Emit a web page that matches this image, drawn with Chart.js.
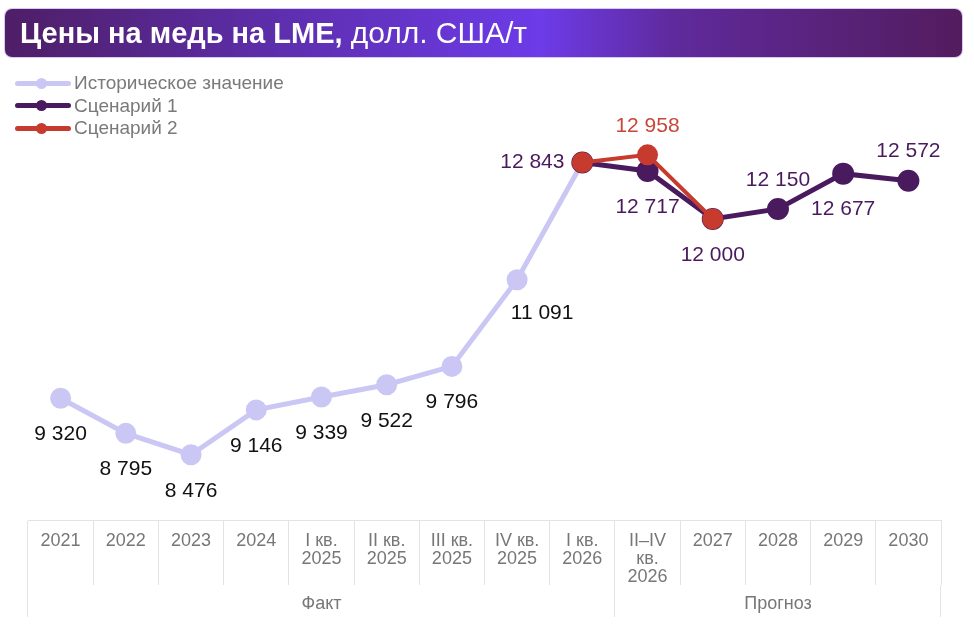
<!DOCTYPE html>
<html>
<head>
<meta charset="utf-8">
<script src="https://cdn.jsdelivr.net/npm/chart.js@4"></script>
<style>
  body { margin: 0; background: #fff; font-family: "Liberation Sans", Arial, sans-serif; }
  #wrap { position: relative; width: 974px; height: 629px; }
  #chart { position: absolute; left: 0; top: 0; }
  .banner {
    position: absolute; left: 5px; top: 9px; width: 957px; height: 48px;
    border-radius: 7px; box-shadow: 0 0 0 1px #d9c8f2;
    background: linear-gradient(90deg, #4e1e66 0%, #5e2fb0 30%, #6d3be8 56%, #5f2a9c 70%, #531c5e 100%);
    color: #fff; font-size: 29px; line-height: 48px; padding-left: 15px; box-sizing: border-box;
  }
  .banner b { font-weight: bold; }
  .banner span { font-size: 30px; }
  .legend { position: absolute; left: 15px; top: 72px; font-size: 19px; color: #7a7a7a; }
  .legend div { height: 22.5px; line-height: 22.5px; display: flex; align-items: center; }
  .legend i { position: relative; display: inline-block; width: 56px; height: 5px; border-radius: 3px; margin-right: 3px; }
  .legend i::after { content: ""; position: absolute; left: 21px; top: -3px; width: 11px; height: 11px; border-radius: 50%; background: inherit; }
</style>
</head>
<body>
<div id="wrap">
  <canvas id="chart" width="974" height="629"></canvas>
  <div class="banner"><b>Цены на медь на LME,</b> <span>долл. США/т</span></div>
  <div class="legend">
    <div><i style="background:#cbc7f4"></i>Историческое значение</div>
    <div><i style="background:#4a1a5e"></i>Сценарий 1</div>
    <div><i style="background:#c73a2e"></i>Сценарий 2</div>
  </div>
</div>
<script>
var categories = ['2021', '2022', '2023', '2024', ['I кв.', '2025'], ['II кв.', '2025'], ['III кв.', '2025'],
  ['IV кв.', '2025'], ['I кв.', '2026'], ['II–IV', 'кв.', '2026'], '2027', '2028', '2029', '2030'];
var historical = [9320, 8795, 8476, 9146, 9339, 9522, 9796, 11091, 12843, null, null, null, null, null];
var scenario1 = [null, null, null, null, null, null, null, null, 12843, 12717, 12000, 12150, 12677, 12572];
var scenario2 = [null, null, null, null, null, null, null, null, 12843, 12958, 12000, null, null, null];
var groups = [{ label: 'Факт', from: 0, to: 8 }, { label: 'Прогноз', from: 9, to: 13 }];

// where each value label sits relative to its point
var histLabelPos = ['below', 'below', 'below', 'below', 'below', 'below', 'below', 'belowRight', null];
var s1LabelPos = [null, null, null, null, null, null, null, null, 'left', 'below', 'below', 'above', 'below', 'above'];
var s2LabelPos = [null, null, null, null, null, null, null, null, null, 'above', null, null, null, null];

var offsets = {
  below: [0, 36], above: [0, -29], left: [-50, 0], belowRight: [25, 33]
};

function fmt(v) {
  return String(v).replace(/\B(?=(\d{3})+(?!\d))/g, ' ');
}

var valueLabels = {
  id: 'valueLabels',
  afterDatasetsDraw: function(chart) {
    var ctx = chart.ctx;
    ctx.save();
    ctx.font = '21px "Liberation Sans", Arial, sans-serif';
    ctx.textAlign = 'center';
    ctx.textBaseline = 'middle';
    chart.data.datasets.forEach(function(ds, di) {
      var meta = chart.getDatasetMeta(di);
      meta.data.forEach(function(pt, i) {
        var pos = ds.labelPos[i];
        if (!pos || ds.data[i] == null) return;
        var o = offsets[pos];
        ctx.fillStyle = ds.labelColor;
        ctx.fillText(fmt(ds.data[i]), pt.x + o[0], pt.y + o[1]);
      });
    });
    ctx.restore();
  }
};

var groupRow = {
  id: 'groupRow',
  afterDraw: function(chart) {
    var ctx = chart.ctx, x = chart.scales.x;
    var half = (x.getPixelForValue(1) - x.getPixelForValue(0)) / 2;
    var y0 = x.top + 65, y1 = x.bottom + 1;
    ctx.save();
    ctx.strokeStyle = '#e3e3e3';
    ctx.lineWidth = 1;
    ctx.fillStyle = '#777';
    ctx.font = '18px "Liberation Sans", Arial, sans-serif';
    ctx.textAlign = 'center';
    ctx.textBaseline = 'middle';
    groups.forEach(function(g) {
      var l = x.getPixelForValue(g.from) - half;
      var r = x.getPixelForValue(g.to) + half;
      ctx.beginPath();
      ctx.moveTo(Math.round(l) - 0.5, y0); ctx.lineTo(Math.round(l) - 0.5, y1);
      ctx.moveTo(Math.round(r) - 0.5, y0); ctx.lineTo(Math.round(r) - 0.5, y1);
      ctx.stroke();
      ctx.fillText(g.label, (l + r) / 2, y0 + 19);
    });
    ctx.restore();
  }
};

new Chart(document.getElementById('chart'), {
  type: 'line',
  data: {
    labels: categories,
    datasets: [{
      label: 'Историческое значение',
      data: historical,
      borderColor: '#cbc7f4',
      backgroundColor: '#cbc7f4',
      borderWidth: 5,
      pointRadius: 8,
      labelPos: histLabelPos,
      labelColor: '#111',
      order: 3
    }, {
      label: 'Сценарий 1',
      data: scenario1,
      borderColor: '#4a1a5e',
      backgroundColor: '#4a1a5e',
      borderWidth: 5,
      pointRadius: 8.5,
      labelPos: s1LabelPos,
      labelColor: '#4a1a5e',
      order: 2
    }, {
      label: 'Сценарий 2',
      data: scenario2,
      borderColor: '#c73a2e',
      backgroundColor: '#c73a2e',
      borderWidth: 4,
      pointRadius: 8.5,
      labelPos: s2LabelPos,
      labelColor: '#c9463a',
      order: 1
    }]
  },
  options: {
    responsive: false,
    animation: false,
    events: [],
    layout: { padding: { left: 28, right: 33, top: 140, bottom: 13 } },
    plugins: {
      legend: { display: false },
      tooltip: { enabled: false }
    },
    scales: {
      y: { display: false, min: 7500, max: 13180 },
      x: {
        offset: true,
        afterFit: function(scale) { scale.height = 96; },
        grid: { offset: true, drawOnChartArea: false, drawTicks: true, tickLength: 65, color: '#e3e3e3' },
        border: { display: true, color: '#e3e3e3' },
        ticks: {
          padding: -53,
          color: '#777',
          maxRotation: 0,
          autoSkip: false,
          font: { family: '"Liberation Sans", Arial, sans-serif', size: 18, lineHeight: 1.0 }
        }
      }
    }
  },
  plugins: [valueLabels, groupRow]
});
</script>
</body>
</html>
